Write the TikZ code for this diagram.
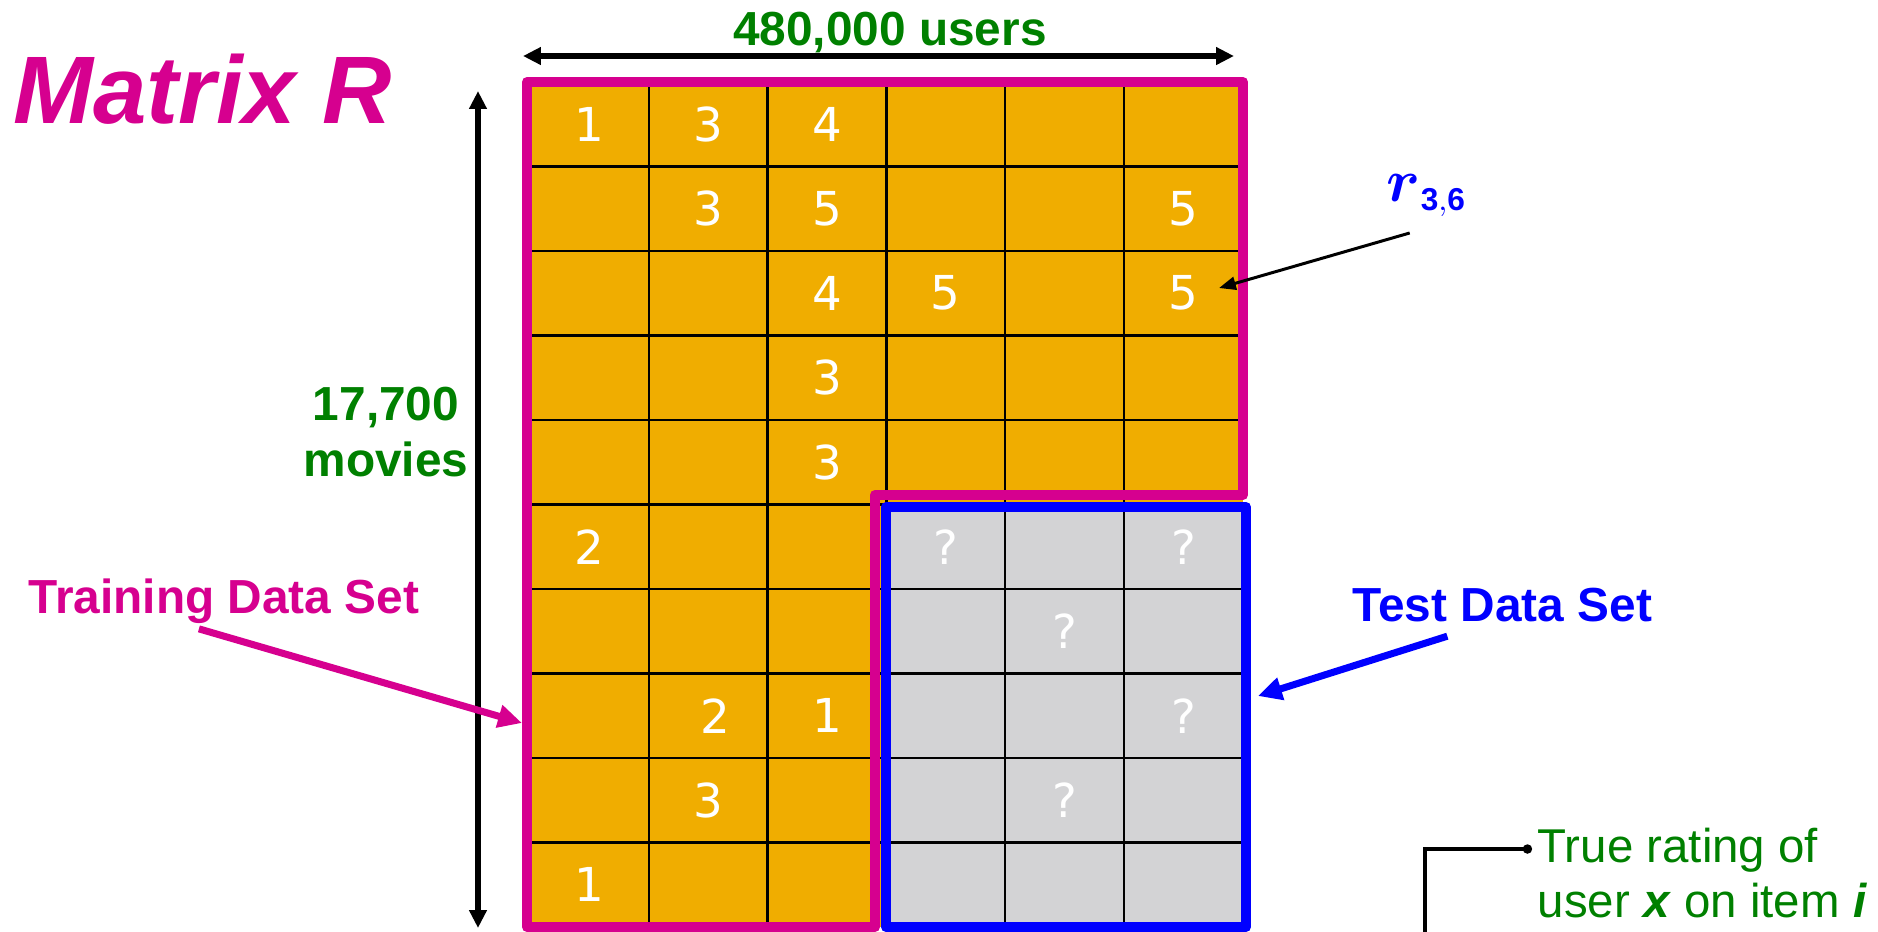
\documentclass[tikz,border=0pt]{standalone}
\usepackage{amsmath,amssymb}
\usepackage{fontspec}
\setmainfont{Liberation Sans}
\newfontfamily\numfont{DejaVu Sans}
\usepackage{tikz}
\usetikzlibrary{arrows.meta,positioning,calc}
\DeclareMathSizes{17.28}{17.28}{9}{7}
\definecolor{mag}{RGB}{214,0,143}
\definecolor{gold}{RGB}{240,173,0}
\definecolor{tgray}{RGB}{211,211,213}
\definecolor{dgreen}{RGB}{0,128,0}
\tikzset{
  num/.style={font=\numfont\fontsize{13.3}{16}\selectfont,text=white,inner sep=0pt},
  lab/.style={font={\bfseries\fontsize{13.6}{16.2}\selectfont},inner sep=0pt},
  dim/.style={{Triangle[length=5.1pt,width=4.8pt]}-{Triangle[length=5.1pt,width=4.8pt]},line width=1.6pt},
  ptr/.style={-{Triangle[length=6.8pt,width=6.3pt]},line width=2pt},
  grd/.style={line width=0.7pt}
}

\begin{document}
\begin{tikzpicture}[
 ttl/.style={font={\bfseries\itshape\fontsize{27.3}{32}\selectfont},text=mag,inner sep=0pt},
 trainbox/.style={draw=mag,line width=2.85pt,line cap=round,line join=round},
 testbox/.style={draw=blue,line width=2.85pt,line join=round},
 rptr/.style={-{Triangle[length=4.8pt,width=3.7pt]},line width=0.85pt},
 brk/.style={{Circle[length=2.6pt]}-,line width=1.4pt}]
\useasboundingbox (0,0) rectangle (18.78,-9.31);
% ratings matrix
\begin{scope}[shift={(5.30cm,-0.82cm)},x=1.188cm,y=-0.845cm]
\fill[gold] (0,0) rectangle (6,10);
\fill[tgray] (3,5) rectangle (6,10);
\foreach \k in {1,...,5} \draw[grd] (\k,0) -- (\k,10);
\foreach \k in {1,...,9} \draw[grd] (0,\k) -- (6,\k);
\node[num] (c-1-1) at (0.5,0.5) {1};
\node[num] (c-1-2) at (1.5,0.5) {3};
\node[num] (c-1-3) at (2.5,0.5) {4};
\node[num] (c-2-2) at (1.5,1.5) {3};
\node[num] (c-2-3) at (2.5,1.5) {5};
\node[num] (c-2-6) at (5.5,1.5) {5};
\node[num] (c-3-3) at (2.5,2.5) {4};
\node[num] (c-3-4) at (3.5,2.5) {5};
\node[num] (c-3-6) at (5.5,2.5) {5};
\node[num] (c-4-3) at (2.5,3.5) {3};
\node[num] (c-5-3) at (2.5,4.5) {3};
\node[num] (c-6-1) at (0.5,5.5) {2};
\node[num] (c-6-4) at (3.5,5.5) {?};
\node[num] (c-6-6) at (5.5,5.5) {?};
\node[num] (c-7-5) at (4.5,6.5) {?};
\node[num] (c-8-2) at (1.56,7.5) {2};
\node[num] (c-8-3) at (2.5,7.5) {1};
\node[num] (c-8-6) at (5.5,7.5) {?};
\node[num] (c-9-2) at (1.5,8.5) {3};
\node[num] (c-9-5) at (4.5,8.5) {?};
\node[num] (c-10-1) at (0.5,9.5) {1};
\end{scope}
\draw[trainbox] (5.27,-0.82) -- (12.43,-0.82) -- (12.43,-4.95) -- (8.75,-4.95) -- (8.75,-9.27) -- (5.27,-9.27) -- cycle;
\draw[testbox] (8.86,-5.07) rectangle (12.46,-9.27);
% labels
\node[ttl,anchor=base west] (mtx) at (0.13,-1.23) {Matrix R};
\node[lab,text=dgreen,anchor=base] (usr) at (8.90,-0.45) {480,000 users};
\node[lab,text=dgreen,align=center] (mov) at (3.86,-4.32) {17,700\\movies};
\node[lab,text=mag,anchor=base west] (trn) at (0.28,-6.13) {Training Data Set};
\node[lab,text=blue,anchor=base west] (tst) at (13.52,-6.21) {Test Data Set};
\node[text=blue,font=\fontsize{17.28}{20}\selectfont,inner sep=0pt,anchor=base west] (rlab) at (13.86,-2.01) {$\boldsymbol{r}_{\mathbf{3,6}}$};
\node[text=dgreen,font=\fontsize{13.5}{15.9}\selectfont,align=left,inner sep=0pt,anchor=north west] (tru) at (15.37,-8.27) {True rating of\\user \textbf{\textit{x}} on item \textbf{\textit{i}}};
% arrows
\coordinate (uL) at (5.23,-0.56);
\coordinate (uR) at (12.34,-0.56);
\coordinate (mT) at (4.78,-0.91);
\coordinate (mB) at (4.78,-9.28);
\coordinate (trtip) at (5.22,-7.23);
\coordinate (tsttip) at (12.58,-6.96);
\coordinate (rtip) at (12.19,-2.88);
\coordinate (bk) at (14.25,-8.49);
\coordinate (bkfoot) at (14.25,-9.45);
\draw[dim] (uL) -- (uR);
\draw[dim] (mT) -- (mB);
\draw[ptr,mag] ([xshift=-0.25cm,yshift=-0.05cm]trn.south) -- (trtip);
\draw[ptr,blue] ([xshift=-0.55cm,yshift=-0.14cm]tst.south) -- (tsttip);
\draw[rptr] ([xshift=-0.17cm,yshift=-0.16cm]rlab.south) -- (rtip);
\draw[brk] ([xshift=-0.05cm,yshift=-0.22cm]tru.north west) -- (bk) -- (bkfoot);
\end{tikzpicture}
\end{document}
